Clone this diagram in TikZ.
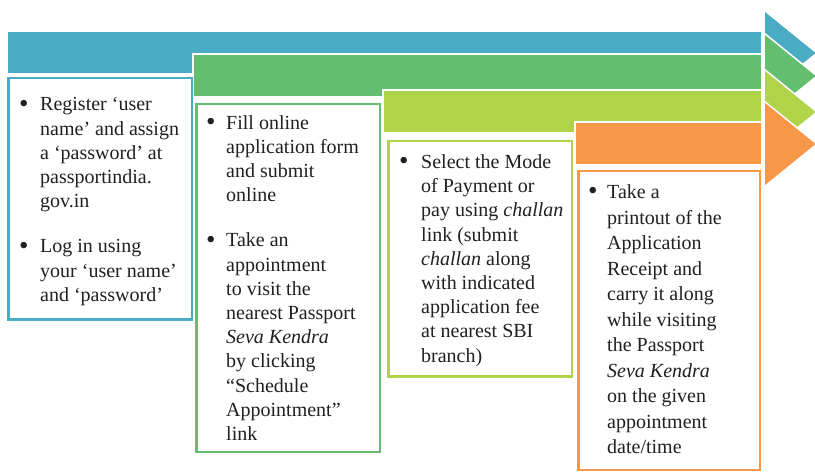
\documentclass[tikz,border=0pt]{standalone}
\usepackage{fontspec}
\setmainfont{Liberation Serif}
\usepackage{graphicx}
\usepackage{tikz}
\usetikzlibrary{positioning}

\definecolor{stepblue}{HTML}{4AABC5}
\definecolor{stepgreen}{HTML}{63BE70}
\definecolor{steplime}{HTML}{B1D34A}
\definecolor{steporange}{HTML}{F79747}
\definecolor{steptext}{HTML}{231F20}

\tikzset{
  bar/.style={fill=#1, draw=white, line width=1.5pt},
  stepbox/.style={draw=#1, fill=white, line width=2.5pt, anchor=north west, inner sep=0pt},
  steptxt/.style={anchor=north west, inner sep=0pt, text=steptext,
    font=\fontsize{20}{24.2}\selectfont},
}

% bar and arrow head: colour, left end, top of bar
\newcommand{\steparrow}[3]{
  \draw[bar=#1] (#2,#3) rectangle (762,{#3+43});
  \draw[bar=#1] (764,{#3-21}) -- (817,{#3+22}) -- (764,{#3+65}) -- cycle;
}
\newcommand{\bdot}{\raisebox{-1.2pt}{\scalebox{1.35}{\textbullet}}}

\begin{document}
\begin{tikzpicture}[x=1pt, y=-1pt]
  \useasboundingbox[fill=white] (0,0) rectangle (815,473);

  \steparrow{stepblue}{7}{31}
  \steparrow{stepgreen}{193}{54}
  \steparrow{steplime}{383}{90}
  \steparrow{steporange}{575}{122}

  \node[stepbox=stepblue, minimum width=183.5pt, minimum height=241.5pt] (regbox) at (7,77) {};
  \node[stepbox=stepgreen, minimum width=183.5pt, minimum height=347.5pt] (formbox) at (195,103) {};
  \node[stepbox=steplime, minimum width=183.5pt, minimum height=235.5pt] (paybox) at (387,140) {};
  \node[stepbox=steporange, minimum width=181.5pt, minimum height=298.5pt] (printbox) at (577,170) {};

  \node[steptxt] (regtxt) at (19,93.8) {%
    \begin{tabular}{@{}p{21pt}@{}l@{}}
      \bdot & Register ‘user\\
      & name’ and assign\\
      & a ‘password’ at\\
      & passportindia.\\
      & gov.in\\[21pt]
      \bdot & Log in using\\
      & your ‘user name’\\
      & and ‘password’
    \end{tabular}};

  \node[steptxt] (formtxt) at (206,112) {%
    \begin{tabular}{@{}p{20pt}@{}l@{}}
      \bdot & Fill online\\
      & application form\\
      & and submit\\
      & online\\[21pt]
      \bdot & Take an\\
      & appointment\\
      & to visit the\\
      & nearest Passport\\
      & \textit{Seva Kendra}\\
      & by clicking\\
      & “Schedule\\
      & Appointment”\\
      & link
    \end{tabular}};

  \node[steptxt] (paytxt) at (399,151.4) {%
    \begin{tabular}{@{}p{22pt}@{}l@{}}
      \bdot & Select the Mode\\
      & of Payment or\\
      & pay using \textit{challan}\\
      & link (submit\\
      & \textit{challan} along\\
      & with indicated\\
      & application fee\\
      & at nearest SBI\\
      & branch)
    \end{tabular}};

  \node[steptxt, font=\fontsize{20}{25.5}\selectfont] (printtxt) at (588,180.5) {%
    \begin{tabular}{@{}p{19pt}@{}l@{}}
      \bdot & Take a\\
      & printout of the\\
      & Application\\
      & Receipt and\\
      & carry it along\\
      & while visiting\\
      & the Passport\\
      & \textit{Seva Kendra}\\
      & on the given\\
      & appointment\\
      & date/time
    \end{tabular}};
\end{tikzpicture}
\end{document}
